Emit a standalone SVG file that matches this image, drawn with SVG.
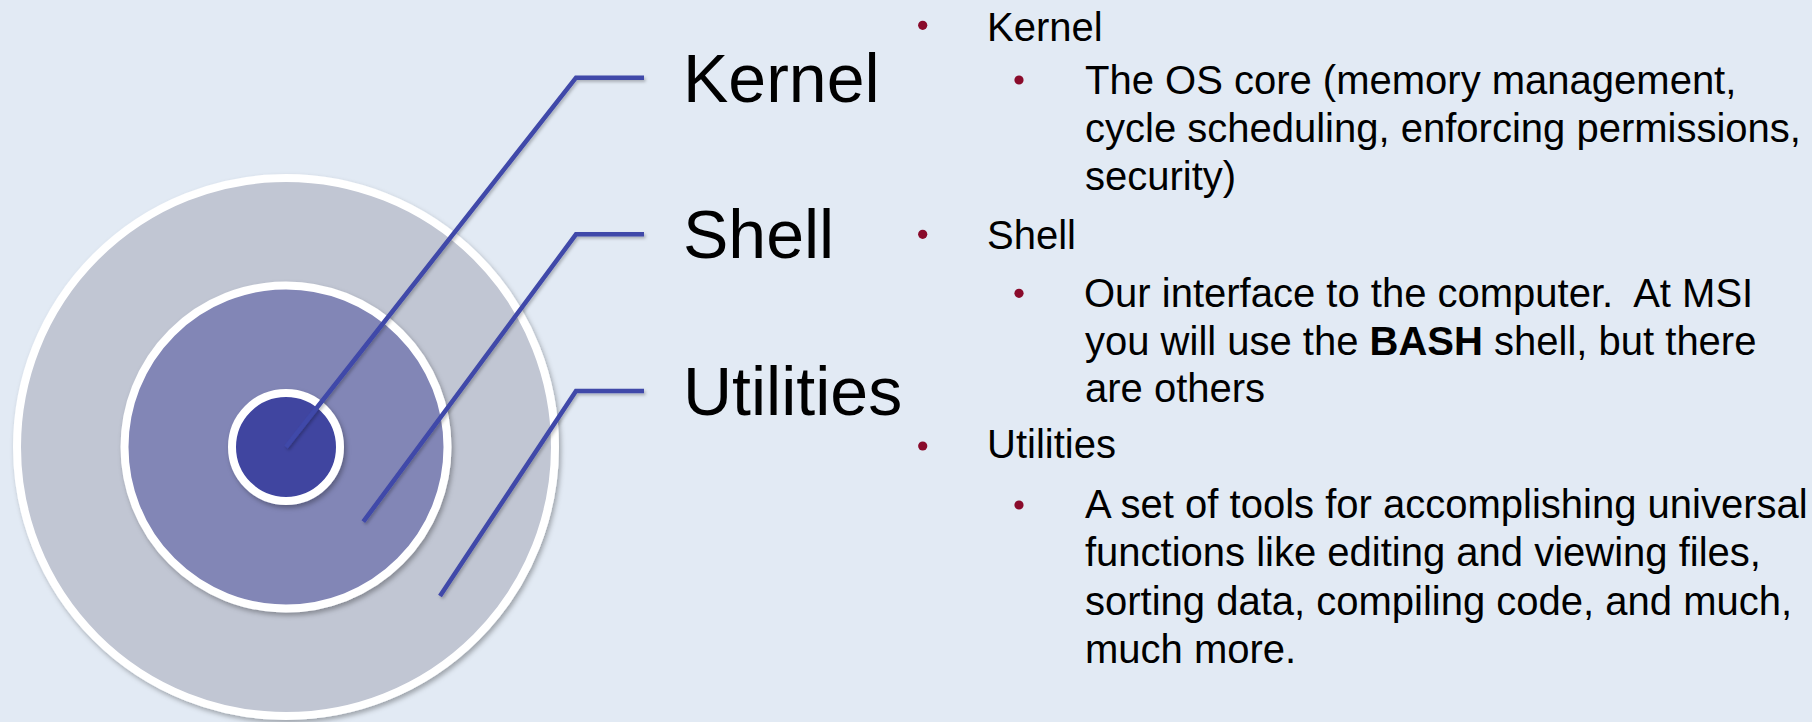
<svg xmlns="http://www.w3.org/2000/svg" width="1812" height="722" viewBox="0 0 1812 722">
  <defs>
    <filter id="sh" x="-20%" y="-20%" width="140%" height="140%">
      <feDropShadow dx="2" dy="3" stdDeviation="2.5" flood-color="#000" flood-opacity="0.3"/>
    </filter>
    <filter id="lsh" x="-20%" y="-20%" width="140%" height="140%">
      <feDropShadow dx="1.5" dy="2" stdDeviation="1.5" flood-color="#000" flood-opacity="0.25"/>
    </filter>
    <style>
      .ring { stroke: #FFFFFF; stroke-width: 8; filter: url(#sh); }
      .conn { fill: none; stroke: #3F48A9; stroke-width: 4.5; stroke-linecap: butt; stroke-linejoin: miter; filter: url(#lsh); }
      .big { font-family: "Liberation Sans", Arial, sans-serif; font-size: 68px; fill: #000; }
      .txt { font-family: "Liberation Sans", Arial, sans-serif; font-size: 40px; fill: #000; white-space: pre; }
      .b { font-weight: bold; }
      .dot { fill: #8A0B2B; }
    </style>
  </defs>
  <rect x="0" y="0" width="1812" height="722" fill="#E2EAF4"/>

  <g id="utilities-ring">
    <circle class="ring" cx="286" cy="447" r="269" fill="#C1C6D3"/>
  </g>
  <g id="shell-ring">
    <circle class="ring" cx="286" cy="447" r="161.5" fill="#8286B6"/>
  </g>
  <g id="kernel-core">
    <circle class="ring" cx="286" cy="447" r="54" stroke-width="7.5" fill="#3F45A0"/>
  </g>

  <g id="connectors">
    <polyline class="conn" points="286,447 576,77.7 644,77.7"/>
    <polyline class="conn" points="363.3,521.7 576,234.3 644,234.3"/>
    <polyline class="conn" points="440,596 576,391 644,391"/>
  </g>

  <g id="label-kernel"><text class="big" x="683" y="101.7">Kernel</text></g>
  <g id="label-shell"><text class="big" x="683" y="258.4">Shell</text></g>
  <g id="label-utilities"><text class="big" x="683" y="415">Utilities</text></g>

  <g id="list-kernel">
    <circle class="dot" cx="922.7" cy="25.3" r="4.6"/>
    <text class="txt" x="987" y="40.7">Kernel</text>
    <circle class="dot" cx="1019" cy="80" r="4.6"/>
    <text class="txt" x="1085" y="94">The OS core (memory management,</text>
    <text class="txt" x="1085" y="142">cycle scheduling, enforcing permissions,</text>
    <text class="txt" x="1085" y="190">security)</text>
  </g>

  <g id="list-shell">
    <circle class="dot" cx="922.7" cy="234.3" r="4.6"/>
    <text class="txt" x="987" y="249.3">Shell</text>
    <circle class="dot" cx="1019" cy="293.3" r="4.6"/>
    <text class="txt" x="1084" y="307.3">Our interface to the computer.  At MSI</text>
    <text class="txt" x="1085" y="355">you will use the <tspan class="b">BASH</tspan> shell, but there</text>
    <text class="txt" x="1085" y="401.7">are others</text>
  </g>

  <g id="list-utilities">
    <circle class="dot" cx="922.7" cy="446" r="4.6"/>
    <text class="txt" x="987" y="458.3">Utilities</text>
    <circle class="dot" cx="1019" cy="505" r="4.6"/>
    <text class="txt" x="1085" y="517.5">A set of tools for accomplishing universal</text>
    <text class="txt" x="1085" y="566">functions like editing and viewing files,</text>
    <text class="txt" x="1085" y="614.5">sorting data, compiling code, and much,</text>
    <text class="txt" x="1085" y="663">much more.</text>
  </g>
</svg>
